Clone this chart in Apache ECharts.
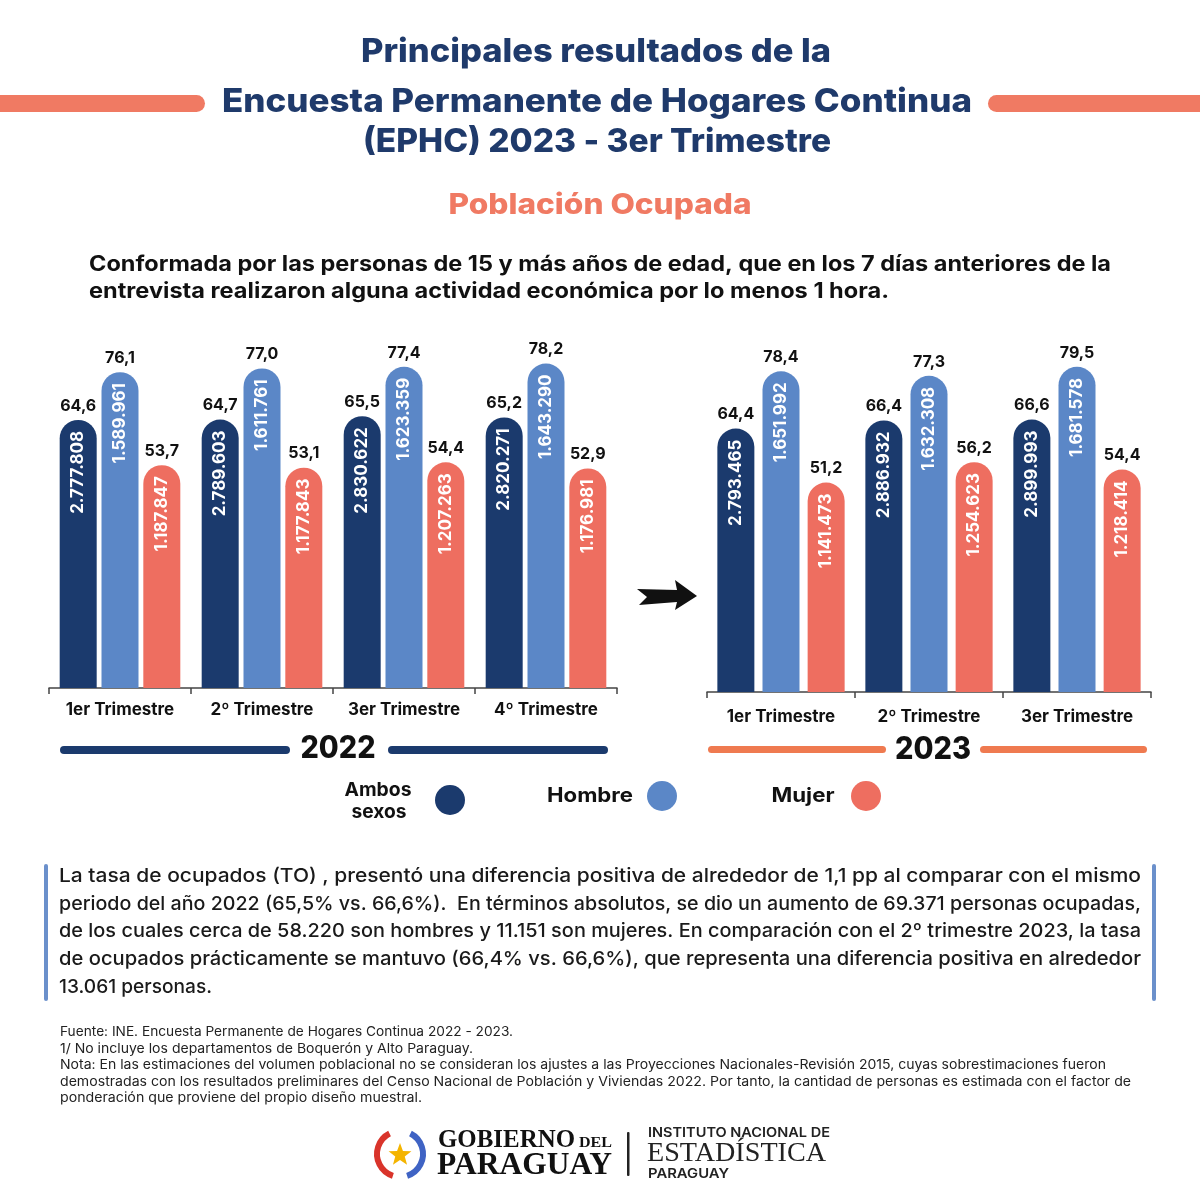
<!DOCTYPE html>
<html>
<head>
<meta charset="utf-8">
<script src="https://cdn.jsdelivr.net/npm/echarts@6/dist/echarts.min.js"></script>
<style>
html,body{margin:0;padding:0;background:#ffffff;}
#chart{width:1200px;height:1200px;}
</style>
</head>
<body>
<div id="chart"></div>
<script>
// ---- Data ----
const cats2022 = ['1er Trimestre', '2º Trimestre', '3er Trimestre', '4º Trimestre'];
const rate2022Ambos = [64.6, 64.7, 65.5, 65.2];
const rate2022Hombre = [76.1, 77.0, 77.4, 78.2];
const rate2022Mujer = [53.7, 53.1, 54.4, 52.9];
const pop2022Ambos = [2777808, 2789603, 2830622, 2820271];
const pop2022Hombre = [1589961, 1611761, 1623359, 1643290];
const pop2022Mujer = [1187847, 1177843, 1207263, 1176981];

const cats2023 = ['1er Trimestre', '2º Trimestre', '3er Trimestre'];
const rate2023Ambos = [64.4, 66.4, 66.6];
const rate2023Hombre = [78.4, 77.3, 79.5];
const rate2023Mujer = [51.2, 56.2, 54.4];
const pop2023Ambos = [2793465, 2886932, 2899993];
const pop2023Hombre = [1651992, 1632308, 1681578];
const pop2023Mujer = [1141473, 1254623, 1218414];

const seriesNames = ['Ambos sexos', 'Hombre', 'Mujer'];

// ---- Styles ----
const C_DARK = '#1b3a6d';
const C_LIGHT = '#5b87c7';
const C_PINK = '#ee6e60';
const C_TITLE = '#1f3a6b';
const C_SALMON = '#f07a63';
const C_ORANGE = '#ef7a50';
const FONT = 'Inter, "Noto Sans", sans-serif';
const SERIF = '"Liberation Serif", "DejaVu Serif", serif';

const fmtRate = v => v.toFixed(1).replace('.', ',');
const fmtPop = n => String(n).replace(/\B(?=(\d{3})+(?!\d))/g, '.');

function mainBar(gridIdx, rates, pops, color, name, gap) {
  return {
    type: 'bar', name: name, xAxisIndex: gridIdx, yAxisIndex: gridIdx,
    data: rates, barWidth: 37, barGap: gap,
    itemStyle: { color: color, borderRadius: [19, 19, 0, 0] },
    label: {
      show: true, position: 'insideTop', distance: 11, rotate: 90,
      align: 'right', verticalAlign: 'middle',
      color: '#ffffff', fontFamily: FONT, fontWeight: 'bold', fontSize: 17,
      formatter: p => fmtPop(pops[p.dataIndex])
    },
    emphasis: { disabled: true }
  };
}
function topBar(gridIdx, rates, name, gap) {
  return {
    type: 'bar', name: name + ' tasa', xAxisIndex: gridIdx, yAxisIndex: gridIdx,
    data: rates, barWidth: 37, barGap: gap, silent: true,
    itemStyle: { color: 'rgba(0,0,0,0)' },
    label: {
      show: true, position: 'top', distance: 6,
      color: '#111111', fontFamily: FONT, fontWeight: 'bold', fontSize: 16,
      formatter: p => fmtRate(p.value)
    },
    emphasis: { disabled: true }
  };
}
function xAx(gridIdx, cats, visible, margin) {
  return {
    type: 'category', gridIndex: gridIdx, data: cats, show: visible,
    axisLine: { show: true, lineStyle: { color: '#444444', width: 1.5 } },
    axisTick: { show: true, interval: 0, length: 6, lineStyle: { color: '#444444', width: 1.5 } },
    axisLabel: { interval: 0, hideOverlap: false, color: '#111111', fontFamily: FONT, fontWeight: 'bold', fontSize: 17, margin: margin }
  };
}
function yAx(gridIdx) {
  return { type: 'value', gridIndex: gridIdx, min: 0, max: 100, show: false, splitLine: { show: false } };
}

// ---- Decorations (graphic) ----
const measureCtx = document.createElement('canvas').getContext('2d');
function txt(text, x, y, size, weight, color, align, family, targetW) {
  const fam = family || FONT;
  let sx = 1;
  if (targetW) {
    measureCtx.font = weight + ' ' + size + 'px ' + fam;
    const w = measureCtx.measureText(text).width;
    if (w > 0) sx = targetW / w;
  }
  return {
    type: 'text', x: x, y: y, scaleX: sx, silent: true,
    style: {
      text: text, fill: color, fontSize: size, fontWeight: weight,
      fontFamily: fam, textAlign: align || 'left', textVerticalAlign: 'middle'
    }
  };
}
function rrect(x, y, w, h, r, color) {
  return { type: 'rect', silent: true, shape: { x: x, y: y, width: w, height: h, r: r }, style: { fill: color } };
}
function circ(cx, cy, r, color) {
  return { type: 'circle', silent: true, shape: { cx: cx, cy: cy, r: r }, style: { fill: color } };
}
function starPoints(cx, cy, R, r) {
  const pts = [];
  for (let i = 0; i < 10; i++) {
    const a = -Math.PI / 2 + i * Math.PI / 5;
    const rad = i % 2 === 0 ? R : r;
    pts.push([cx + rad * Math.cos(a), cy + rad * Math.sin(a)]);
  }
  return pts;
}

const para = [
  'La tasa de ocupados (TO) , presentó una diferencia positiva de alrededor de 1,1 pp al comparar con el mismo',
  'periodo del año 2022 (65,5% vs. 66,6%).  En términos absolutos, se dio un aumento de 69.371 personas ocupadas,',
  'de los cuales cerca de 58.220 son hombres y 11.151 son mujeres. En comparación con el 2º trimestre 2023, la tasa',
  'de ocupados prácticamente se mantuvo (66,4% vs. 66,6%), que representa una diferencia positiva en alrededor',
  '13.061 personas.'
];
const paraW = [1082, 1082, 1082, 1082, 153];
const notes = [
  'Fuente: INE. Encuesta Permanente de Hogares Continua 2022 - 2023.',
  '1/ No incluye los departamentos de Boquerón y Alto Paraguay.',
  'Nota: En las estimaciones del volumen poblacional no se consideran los ajustes a las Proyecciones Nacionales-Revisión 2015, cuyas sobrestimaciones fueron',
  'demostradas con los resultados preliminares del Censo Nacional de Población y Viviendas 2022. Por tanto, la cantidad de personas es estimada con el factor de',
  'ponderación que proviene del propio diseño muestral.'
];
const notesW = [453, 413, 1046, 1071, 362];

const graphics = [
  // Title
  txt('Principales resultados de la', 596, 52, 33, 800, C_TITLE, 'center', FONT, 470),
  rrect(-10, 95, 215, 17, 8.5, C_SALMON),
  rrect(988, 95, 225, 17, 8.5, C_SALMON),
  txt('Encuesta Permanente de Hogares Continua', 597, 102, 33, 800, C_TITLE, 'center', FONT, 750),
  txt('(EPHC) 2023 - 3er Trimestre', 597, 142, 33, 800, C_TITLE, 'center', FONT, 468),
  txt('Población Ocupada', 600, 206, 28, 800, C_SALMON, 'center', FONT, 303),
  txt('Conformada por las personas de 15 y más años de edad, que en los 7 días anteriores de la', 89, 265, 21, 700, '#111111', 'left', FONT, 1022),
  txt('entrevista realizaron alguna actividad económica por lo menos 1 hora.', 89, 292, 21, 700, '#111111', 'left', FONT, 800),
  // Arrow
  { type: 'polygon', silent: true, shape: { points: [[637, 589], [677, 590], [675, 580], [697, 596], [675, 610], [677, 602], [639, 605], [647, 597]] }, style: { fill: '#111111' } },
  // Year labels
  rrect(60, 746, 230, 8, 4, C_DARK),
  rrect(388, 746, 220, 8, 4, C_DARK),
  txt('2022', 338, 749, 31, 800, '#111111', 'center', FONT, 75),
  rrect(708, 746, 178, 7, 3.5, C_ORANGE),
  rrect(980, 746, 167, 7, 3.5, C_ORANGE),
  txt('2023', 933, 750, 31, 800, '#111111', 'center', FONT, 76),
  // Legend
  txt('Ambos', 378, 790, 19, 700, '#111111', 'center', FONT, 67),
  txt('sexos', 379, 812, 19, 700, '#111111', 'center', FONT, 55),
  circ(450, 800, 15, C_DARK),
  txt('Hombre', 590, 796, 20, 700, '#111111', 'center', FONT, 86),
  circ(662, 796, 15, C_LIGHT),
  txt('Mujer', 803, 796, 20, 700, '#111111', 'center', FONT, 63),
  circ(866, 796, 15, C_PINK),
  // Paragraph box lines
  rrect(44, 864, 4, 137, 2, '#6b90cb'),
  rrect(1152, 864, 4, 137, 2, '#6b90cb'),
  // Logos
  { type: 'arc', silent: true, shape: { cx: 400, cy: 1154, r: 23, startAngle: Math.PI * 0.6, endAngle: Math.PI * 1.35 }, style: { stroke: '#d9342b', lineWidth: 6, fill: null } },
  { type: 'arc', silent: true, shape: { cx: 400, cy: 1154, r: 23, startAngle: -Math.PI * 0.35, endAngle: Math.PI * 0.4 }, style: { stroke: '#3f63c4', lineWidth: 6, fill: null } },
  { type: 'polygon', silent: true, shape: { points: starPoints(400, 1155, 12, 5) }, style: { fill: '#f4b400' } },
  txt('GOBIERNO', 438, 1141, 25, 'bold', '#111111', 'left', SERIF, 137),
  txt('DEL', 579, 1143, 15, 'bold', '#111111', 'left', SERIF, 33),
  txt('PARAGUAY', 437, 1166, 31, 'bold', '#111111', 'left', SERIF, 175),
  rrect(627, 1132, 2.5, 44, 1, '#222222'),
  txt('INSTITUTO NACIONAL DE', 648, 1133, 13.5, 600, '#222222', 'left', FONT, 182),
  txt('ESTADÍSTICA', 647, 1154, 27, 'normal', '#222222', 'left', SERIF, 179),
  txt('PARAGUAY', 648, 1174, 13, 600, '#222222', 'left', FONT, 81)
];
para.forEach((line, i) => graphics.push(txt(line, 59, 876 + i * 27.8, 19, 500, '#1a1a1a', 'left', FONT, paraW[i])));
notes.forEach((line, i) => graphics.push(txt(line, 60, 1032 + i * 16.6, 13, 400, '#222222', 'left', FONT, notesW[i])));

const option = {
  backgroundColor: '#ffffff',
  animation: false,
  grid: [
    { left: 49, top: 273, width: 568, height: 415 },
    { left: 49, top: 273, width: 568, height: 415 },
    { left: 707, top: 283, width: 444, height: 409 },
    { left: 707, top: 283, width: 444, height: 409 }
  ],
  xAxis: [
    xAx(0, cats2022, true, 13),
    xAx(1, cats2022, false, 13),
    xAx(2, cats2023, true, 16),
    xAx(3, cats2023, false, 16)
  ],
  yAxis: [yAx(0), yAx(1), yAx(2), yAx(3)],
  series: [
    mainBar(0, rate2022Ambos, pop2022Ambos, C_DARK, seriesNames[0], '13%'),
    mainBar(0, rate2022Hombre, pop2022Hombre, C_LIGHT, seriesNames[1], '13%'),
    mainBar(0, rate2022Mujer, pop2022Mujer, C_PINK, seriesNames[2], '13%'),
    topBar(1, rate2022Ambos, seriesNames[0], '13%'),
    topBar(1, rate2022Hombre, seriesNames[1], '13%'),
    topBar(1, rate2022Mujer, seriesNames[2], '13%'),
    mainBar(2, rate2023Ambos, pop2023Ambos, C_DARK, seriesNames[0], '22%'),
    mainBar(2, rate2023Hombre, pop2023Hombre, C_LIGHT, seriesNames[1], '22%'),
    mainBar(2, rate2023Mujer, pop2023Mujer, C_PINK, seriesNames[2], '22%'),
    topBar(3, rate2023Ambos, seriesNames[0], '22%'),
    topBar(3, rate2023Hombre, seriesNames[1], '22%'),
    topBar(3, rate2023Mujer, seriesNames[2], '22%')
  ],
  graphic: graphics
};

const chart = echarts.init(document.getElementById('chart'), null, { renderer: 'canvas' });
chart.setOption(option);
</script>
</body>
</html>
